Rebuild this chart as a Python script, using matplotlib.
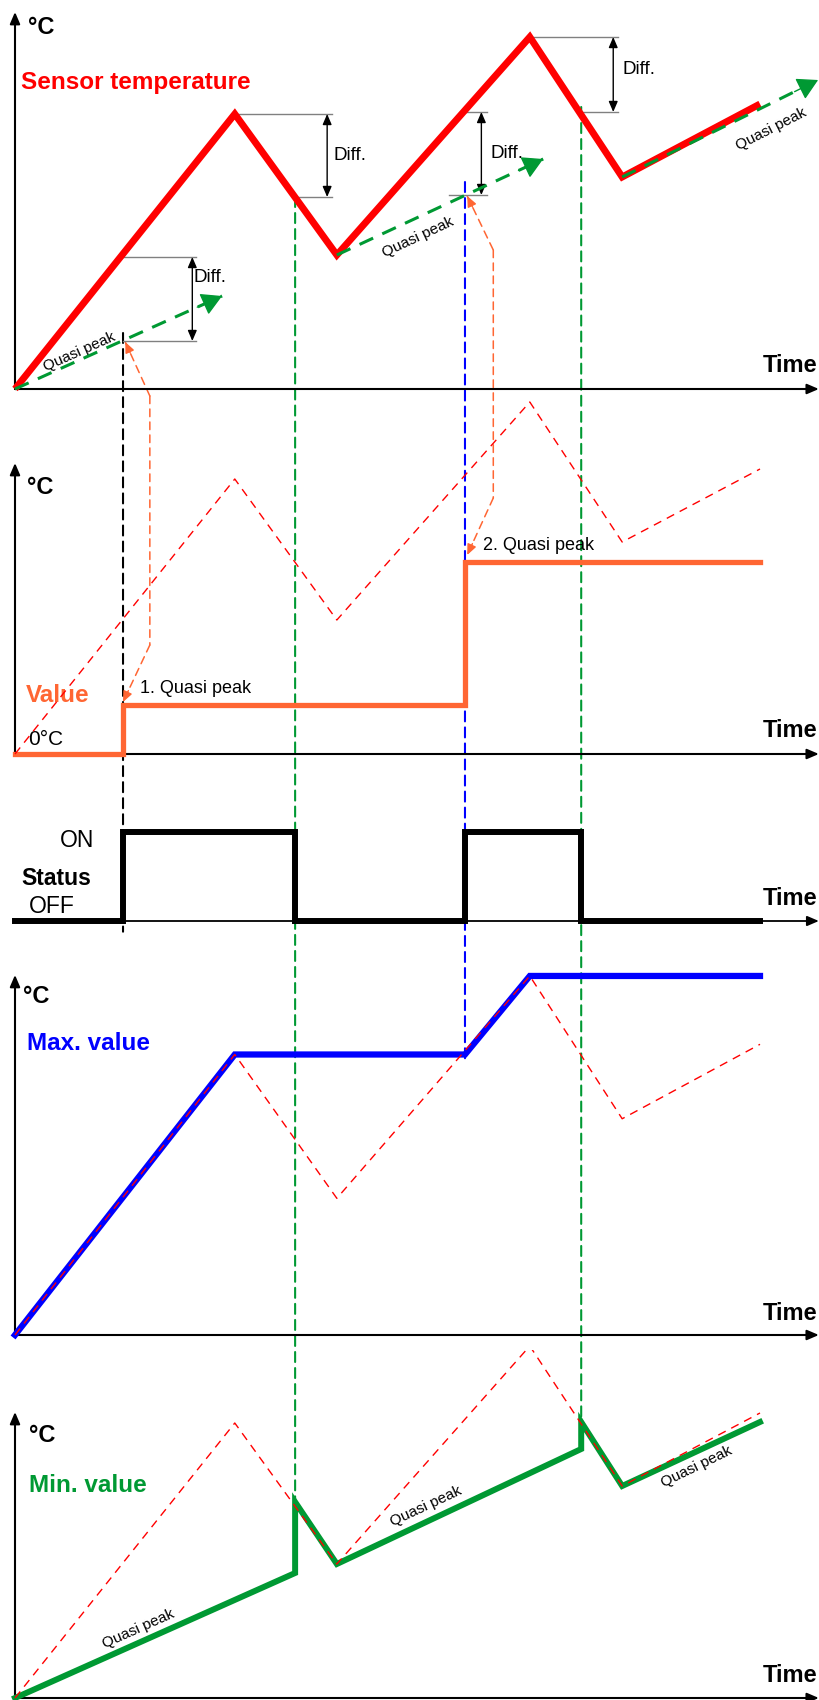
import matplotlib.pyplot as plt
from matplotlib.patches import ConnectionPatch

plt.rcParams['font.family'] = 'Liberation Sans'

# sensor temperature (time, degC, arbitrary units)
time_pts = [0, 29.5, 43.2, 69.1, 81.5, 100]
sensor_temp = [0, 27.5, 13.4, 35.2, 21.2, 28.5]

# quasi peak trend arrows in the top panel
qp_start_t = [0, 43.2, 81.5]
qp_start_v = [0, 13.4, 21.2]
qp_end_t = [27.8, 70.9, 107.8]
qp_end_v = [9.3, 23.0, 30.9]

# "Diff." markers
diff_top_t = [14.5, 29.5, 59.7, 69.1]
diff_top_v = [13.2, 27.5, 27.7, 35.2]
diff_bot_t = [14.5, 37.6, 58.3, 76.1]
diff_bot_v = [4.8, 19.2, 19.4, 27.7]
diff_end_t = [24.3, 42.6, 63.4, 80.9]
diff_arrow_t = [23.8, 41.9, 62.6, 80.3]

# derived outputs
value_t = [0, 14.5, 14.5, 60.4, 60.4, 100]
value_v = [0, 0, 4.9, 4.9, 19.2, 19.2]
status_t = [0, 14.5, 14.5, 37.6, 37.6, 60.4, 60.4, 76.0, 76.0, 100]
status_v = [0, 0, 1, 1, 0, 0, 1, 1, 0, 0]
max_t = [0, 29.5, 60.4, 69.1, 100]
max_v = [0, 27.5, 27.5, 35.2, 35.2]
min_t = [0, 37.6, 37.6, 43.2, 76.0, 76.0, 81.5, 100]
min_v = [0, 12.5, 19.6, 13.4, 24.9, 27.6, 21.2, 27.6]

# switching events (quasi peak reached -> ON, diff reached -> OFF)
event_t = [14.5, 37.6, 60.4, 76.0]

RED = '#ff0000'
ORANGE = '#ff6633'
BLUE = '#0000ff'
GREEN = '#009933'
GREY = '#808080'

W, H = 820, 1700
X0, X1 = -15 / 7.45, 805 / 7.45
AXIS_END = 107.9

fig = plt.figure(figsize=(W / 100, H / 100), dpi=100)


def make_panel(top, bottom, base, scale):
    ax = fig.add_axes([0, 1 - bottom / H, 1, (bottom - top) / H])
    ax.set_xlim(X0, X1)
    ax.set_ylim((base - bottom) / scale, (base - top) / scale)
    ax.axis('off')
    return ax


def draw_axes(ax, y_top, time_y, lw=1.5):
    head = '-|>,head_length=0.7,head_width=0.3'
    ax.annotate('', xy=(AXIS_END, 0), xytext=(0, 0), annotation_clip=False,
                arrowprops=dict(arrowstyle=head, color='k', lw=lw, mutation_scale=10,
                                shrinkA=0, shrinkB=0))
    if y_top is not None:
        ax.annotate('', xy=(0, y_top), xytext=(0, 0), annotation_clip=False,
                    arrowprops=dict(arrowstyle=head, color='k', lw=lw, mutation_scale=10,
                                    shrinkA=0, shrinkB=0))
    ax.text(107.7, time_y, 'Time', ha='right', va='center', fontsize=17, fontweight='bold')


def ghost(ax):
    ax.plot(time_pts, sensor_temp, color=RED, lw=1.0, linestyle=(0, (6, 4.5)), zorder=5)


def small_head(ax, tip, tail, color, scale=8):
    ax.annotate('', xy=tip, xytext=tail, annotation_clip=False,
                arrowprops=dict(arrowstyle='-|>,head_length=0.8,head_width=0.35', color=color,
                                lw=1, mutation_scale=scale, shrinkA=0, shrinkB=0))


ax1 = make_panel(0, 400, 389, 10)
ax2 = make_panel(400, 770, 754, 10)
ax3 = make_panel(770, 945, 921, 89)
ax4 = make_panel(945, 1350, 1335, 10.2)
ax5 = make_panel(1350, 1700, 1698, 10)

# ---- panel 1: sensor temperature
draw_axes(ax1, 37.7, 2.3)
ax1.text(1.74, 36.1, '°C', ha='left', va='center', fontsize=17, fontweight='bold')
ax1.text(0.8, 30.7, 'Sensor temperature', ha='left', va='center', fontsize=17.5,
         fontweight='bold', color=RED)
ax1.plot(time_pts, sensor_temp, color=RED, lw=5, solid_joinstyle='miter',
         solid_capstyle='butt', zorder=3)

for ts, vs, te, ve in zip(qp_start_t, qp_start_v, qp_end_t, qp_end_v):
    ax1.plot([ts, te], [vs, ve], color=GREEN, lw=2.2, linestyle=(0, (4.9, 3.3)), zorder=4)
    back = (te - 0.12 * (te - ts), ve - 0.12 * (ve - vs))
    ax1.annotate('', xy=(te, ve), xytext=back, annotation_clip=False, zorder=4,
                 arrowprops=dict(arrowstyle='-|>,head_length=0.8,head_width=0.45',
                                 color=GREEN, lw=1, mutation_scale=16, shrinkA=0, shrinkB=0))

qp_label_pos = [(8.6, 3.7, 24), (54.1, 15.2, 25), (101.5, 26.0, 27)]
for x, y, rot in qp_label_pos:
    ax1.text(x, y, 'Quasi peak', ha='center', va='center', fontsize=11, rotation=rot,
             rotation_mode='anchor')

diff_text_pos = [(24.0, 11.2), (42.8, 23.4), (63.8, 23.6), (81.5, 31.9)]
for i in range(4):
    ax1.plot([diff_top_t[i], diff_end_t[i]], [diff_top_v[i]] * 2, color=GREY, lw=1, zorder=2)
    ax1.plot([diff_bot_t[i], diff_end_t[i]], [diff_bot_v[i]] * 2, color=GREY, lw=1, zorder=2)
    ax1.annotate('', xy=(diff_arrow_t[i], diff_top_v[i]), xytext=(diff_arrow_t[i], diff_bot_v[i]),
                 arrowprops=dict(arrowstyle='<|-|>,head_length=0.7,head_width=0.3', color='k',
                                 lw=1, mutation_scale=9, shrinkA=0, shrinkB=0))
    ax1.text(diff_text_pos[i][0], diff_text_pos[i][1], 'Diff.', ha='left', va='center',
             fontsize=13.5)

# ---- panel 2: value
draw_axes(ax2, 29.1, 2.3)
ax2.text(1.6, 26.7, '°C', ha='left', va='center', fontsize=17, fontweight='bold')
ghost(ax2)
ax2.plot(value_t, value_v, color=ORANGE, lw=3.8, solid_joinstyle='miter', zorder=4)
ax2.text(1.5, 5.8, 'Value', ha='left', va='center', fontsize=17.5, fontweight='bold',
         color=ORANGE)
ax2.text(1.74, 1.4, '0°C', ha='left', va='center', fontsize=15)
ax2.text(16.8, 6.5, '1. Quasi peak', ha='left', va='center', fontsize=13)
ax2.text(62.8, 20.9, '2. Quasi peak', ha='left', va='center', fontsize=13)

# ---- panel 3: status
draw_axes(ax3, None, 0.25, lw=1.3)
ax3.plot(status_t, status_v, color='k', lw=4.3, solid_joinstyle='miter', zorder=4)
ax3.text(10.6, 0.9, 'ON', ha='right', va='center', fontsize=16.5)
ax3.text(0.8, 0.48, 'Status', ha='left', va='center', fontsize=16.5, fontweight='bold')
ax3.text(1.9, 0.16, 'OFF', ha='left', va='center', fontsize=16.5)

# ---- panel 4: max value
draw_axes(ax4, 35.3, 2.1)
ax4.text(1.07, 33.2, '°C', ha='left', va='center', fontsize=17, fontweight='bold')
ax4.text(1.6, 28.6, 'Max. value', ha='left', va='center', fontsize=17.5, fontweight='bold',
         color=BLUE)
ax4.plot(max_t, max_v, color=BLUE, lw=4.5, solid_joinstyle='miter', zorder=4)
ghost(ax4)

# ---- panel 5: min value
draw_axes(ax5, 28.6, 2.3)
ax5.text(1.9, 26.3, '°C', ha='left', va='center', fontsize=17, fontweight='bold')
ax5.text(1.9, 21.3, 'Min. value', ha='left', va='center', fontsize=17.5, fontweight='bold',
         color=GREEN)
ax5.plot(min_t, min_v, color=GREEN, lw=4.3, solid_joinstyle='miter', zorder=4)
ghost(ax5)
for x, y, rot in [(16.5, 6.9, 24), (55.2, 19.2, 25), (91.5, 23.1, 26)]:
    ax5.text(x, y, 'Quasi peak', ha='center', va='center', fontsize=11, rotation=rot,
             rotation_mode='anchor')

# ---- dashed event lines across panels (drawn beneath the panel contents)
event_lines = [
    (event_t[0], 5.6, ax3, -0.12, 'k'),
    (event_t[1], 19.2, ax5, 19.6, GREEN),
    (event_t[2], 20.7, ax4, 26.7, BLUE),
    (event_t[3], 28.2, ax5, 27.6, GREEN),
]
for t, ya, axb, yb, col in event_lines:
    con = ConnectionPatch(xyA=(t, ya), coordsA='data', axesA=ax1,
                          xyB=(t, yb), coordsB='data', axesB=axb,
                          color=col, lw=1.5, linestyle=(0, (4.8, 2.9)), zorder=-1)
    fig.add_artist(con)

# ---- orange arrows: quasi peak carried into the value
orange_paths = [
    [(ax1, 14.8, 4.7), (ax1, 18.1, -0.7), (ax2, 18.1, 10.9), (ax2, 14.5, 5.2)],
    [(ax1, 60.7, 19.3), (ax1, 64.2, 13.9), (ax2, 64.2, 25.6), (ax2, 60.7, 19.9)],
]
for path in orange_paths:
    for (axa, xa, ya), (axb, xb, yb) in zip(path[:-1], path[1:]):
        con = ConnectionPatch(xyA=(xa, ya), coordsA='data', axesA=axa,
                              xyB=(xb, yb), coordsB='data', axesB=axb,
                              color=ORANGE, lw=1.1, linestyle=(0, (5, 3.5)), zorder=-1)
        fig.add_artist(con)
    for (axe, xe, ye), (_, xn, yn) in [(path[0], path[1]), (path[-1], path[-2])]:
        small_head(axe, (xe, ye), (xe + 0.2 * (xn - xe), ye + 0.2 * (yn - ye)), ORANGE)

fig.savefig('out.png', dpi=100)
